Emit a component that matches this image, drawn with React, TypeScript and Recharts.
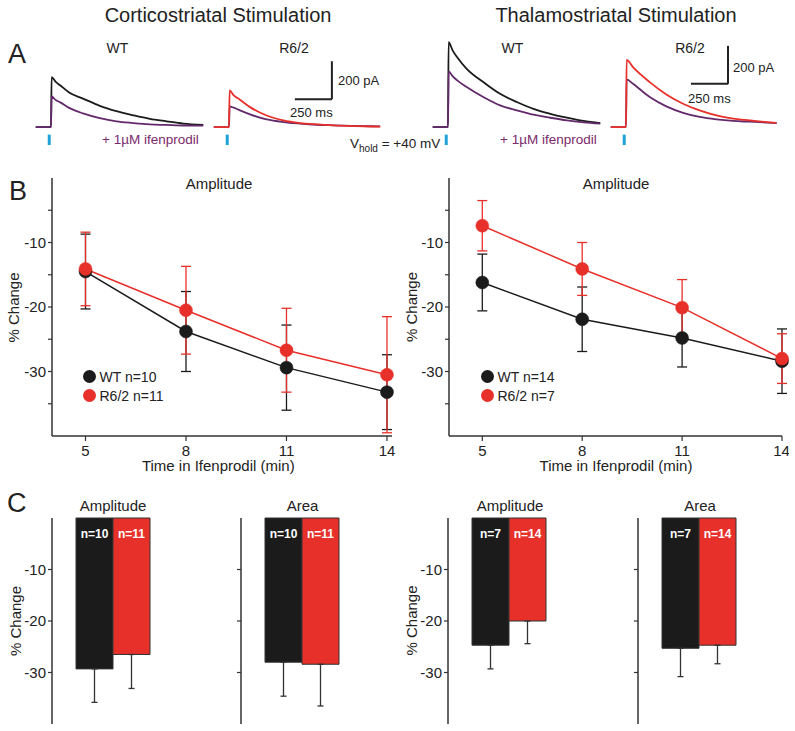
import React from 'react';
import {
  LineChart,
  Line,
  BarChart,
  Bar,
  XAxis,
  YAxis,
  ErrorBar,
  ReferenceLine,
  LabelList,
  Legend,
} from 'recharts';

const FONT = '"Liberation Sans", Arial, Helvetica, sans-serif';
const INK = '#222';
const BLACK = '#1b1b1b';
const RED = '#e8302a';
const PURPLE = '#63296b';
const PURPLE_TEXT = '#7b2a6b';
const BLUE = '#1ea2d9';

// ---- Panel A: example currents (time in ms, current in pA)
const CTX_WT_T = [-105, -2, 2, 30, 60, 120, 214, 327, 439, 552, 664, 777, 890, 1025];
const CTX_WT_CTRL = [0, 0, 263, 238, 220, 182, 150, 112, 84, 62, 43, 30, 18, 11];
const CTX_WT_IFEN = [0, 0, 161, 142, 130, 101, 72, 47, 30, 21, 14, 11, 8, 7];

const CTX_R62_T = [-105, -2, 2, 30, 72, 140, 252, 365, 477, 590, 703, 850, 1018];
const CTX_R62_CTRL = [0, 0, 193, 167, 144, 105, 61, 35, 21, 14, 9, 5, 2];
const CTX_R62_IFEN = [0, 0, 109, 102, 88, 67, 40, 26, 18, 12, 9, 6, 3];

const THL_WT_T = [-105, -2, 2, 30, 60, 124, 236, 349, 462, 574, 687, 800, 912, 1025];
const THL_WT_CTRL = [0, 0, 447, 403, 368, 307, 237, 175, 132, 96, 70, 49, 32, 21];
const THL_WT_IFEN = [0, 0, 293, 267, 246, 211, 158, 114, 88, 65, 49, 35, 25, 18];

const THL_R62_T = [-105, -2, 2, 45, 158, 270, 383, 495, 608, 721, 833, 1014];
const THL_R62_CTRL = [0, 0, 354, 316, 237, 172, 123, 88, 61, 44, 35, 21];
const THL_R62_IFEN = [0, 0, 251, 228, 158, 109, 75, 53, 40, 32, 28, 21];

// ---- Panel B: % change in amplitude over time
const MINUTES = [5, 8, 11, 14];
const CTX_WT_AMP = [-14.5, -23.8, -29.4, -33.2];
const CTX_WT_SEM = [5.8, 6.2, 6.6, 5.8];
const CTX_R62_AMP = [-14.1, -20.5, -26.7, -30.5];
const CTX_R62_SEM = [5.7, 6.8, 6.5, 9.0];
const THL_WT_AMP = [-16.2, -21.9, -24.8, -28.4];
const THL_WT_SEM = [4.4, 5.0, 4.5, 5.0];
const THL_R62_AMP = [-7.4, -14.1, -20.1, -28.0];
const THL_R62_SEM = [3.9, 4.1, 4.35, 3.85];

// ---- Panel C: summary bars [WT, R6/2]
const CTX_AMP_BARS = [-29.3, -26.5];
const CTX_AMP_SEM = [6.5, 6.6];
const CTX_AREA_BARS = [-28.0, -28.4];
const CTX_AREA_SEM = [6.6, 8.1];
const THL_AMP_BARS = [-24.7, -20.0];
const THL_AMP_SEM = [4.6, 4.4];
const THL_AREA_BARS = [-25.3, -24.7];
const THL_AREA_SEM = [5.5, 3.6];
const CTX_N = ['n=10', 'n=11'];
const THL_N = ['n=7', 'n=14'];

const STIM_T = -14;

type TraceProps = {
  left: number;
  times: number[];
  ctrl: number[];
  ifen: number[];
  ctrlColor: string;
  ifenOnTop: boolean;
  scaleAt?: { t: number; pA: number };
};

function TraceChart({ left, times, ctrl, ifen, ctrlColor, ifenOnTop, scaleAt }: TraceProps) {
  const data = times.map((t, i) => ({ t, ctrl: ctrl[i], ifen: ifen[i] }));
  const ctrlLine = (
    <Line key="c" dataKey="ctrl" type="monotone" stroke={ctrlColor} strokeWidth={1.8} dot={false} isAnimationActive={false} />
  );
  const ifenLine = (
    <Line key="i" dataKey="ifen" type="monotone" stroke={PURPLE} strokeWidth={1.8} dot={false} isAnimationActive={false} />
  );
  return (
    <div style={{ position: 'absolute', left, top: 36 }}>
      <LineChart width={169} height={110} data={data} margin={{ top: 0, right: 0, bottom: 0, left: 0 }}>
        <XAxis type="number" dataKey="t" domain={[-110, 1030]} hide />
        <YAxis type="number" domain={[-100, 480]} hide />
        {ifenOnTop ? [ctrlLine, ifenLine] : [ifenLine, ctrlLine]}
        <ReferenceLine
          segment={[{ x: STIM_T, y: -40 }, { x: STIM_T, y: -95 }]}
          stroke={BLUE}
          strokeWidth={3}
        />
        {scaleAt && (
          <ReferenceLine
            segment={[{ x: scaleAt.t, y: scaleAt.pA }, { x: scaleAt.t, y: scaleAt.pA + 200 }]}
            stroke={INK}
            strokeWidth={2}
          />
        )}
        {scaleAt && (
          <ReferenceLine
            segment={[{ x: scaleAt.t - 250, y: scaleAt.pA }, { x: scaleAt.t + 1, y: scaleAt.pA }]}
            stroke={INK}
            strokeWidth={2}
          />
        )}
      </LineChart>
    </div>
  );
}

const legendContent = (labels: string[]) => () => (
  <div style={{ fontSize: 14, color: INK, fontFamily: FONT }}>
    {[BLACK, RED].map((c, i) => (
      <div key={i} style={{ display: 'flex', alignItems: 'center', height: 19, whiteSpace: 'nowrap' }}>
        <span
          style={{ width: 13, height: 13, borderRadius: '50%', background: c, display: 'inline-block', marginRight: 4 }}
        />
        <span>{labels[i]}</span>
      </div>
    ))}
  </div>
);

type TimeCourseProps = {
  left: number;
  width: number;
  xMax: number;
  rightMargin: number;
  wt: number[];
  wtSem: number[];
  r62: number[];
  r62Sem: number[];
  labels: string[];
  legendLeft: number;
};

function TimeCourse({ left, width, xMax, rightMargin, wt, wtSem, r62, r62Sem, labels, legendLeft }: TimeCourseProps) {
  const data = MINUTES.map((t, i) => ({ t, wt: wt[i], wtErr: wtSem[i], r62: r62[i], r62Err: r62Sem[i] }));
  return (
    <div style={{ position: 'absolute', left, top: 160 }}>
      <LineChart width={width} height={320} data={data} margin={{ top: 18, right: rightMargin, bottom: 14, left: 0 }}>
        <XAxis
          type="number"
          dataKey="t"
          domain={[4, xMax]}
          ticks={MINUTES}
          height={30}
          tickSize={5}
          tickMargin={4}
          axisLine={{ stroke: '#333', strokeWidth: 1.5 }}
          tickLine={{ stroke: '#333', strokeWidth: 1.2 }}
          tick={{ fontSize: 15, fill: INK }}
        />
        <YAxis
          type="number"
          domain={[-40, 0]}
          ticks={[-35, -30, -25, -20, -15, -10, -5]}
          tickFormatter={(v: number) => (v % 10 === 0 ? String(v) : '')}
          width={52}
          tickSize={4}
          tickMargin={2}
          axisLine={{ stroke: '#333', strokeWidth: 1.5 }}
          tickLine={{ stroke: '#333', strokeWidth: 1.2 }}
          tick={{ fontSize: 15, fill: INK }}
        />
        <Line
          dataKey="wt"
          stroke={BLACK}
          strokeWidth={1.5}
          dot={{ r: 6.5, fill: BLACK, stroke: BLACK, strokeWidth: 0.5 }}
          isAnimationActive={false}
        >
          <ErrorBar dataKey="wtErr" direction="y" width={5} stroke={BLACK} strokeWidth={1.3} />
        </Line>
        <Line
          dataKey="r62"
          stroke={RED}
          strokeWidth={1.5}
          dot={{ r: 6.5, fill: RED, stroke: RED, strokeWidth: 0.5 }}
          isAnimationActive={false}
        >
          <ErrorBar dataKey="r62Err" direction="y" width={5} stroke={RED} strokeWidth={1.3} />
        </Line>
        <Legend
          layout="vertical"
          align="center"
          verticalAlign="middle"
          content={legendContent(labels)}
          wrapperStyle={{ left: legendLeft, top: 207, width: 'auto', height: 'auto' }}
        />
      </LineChart>
    </div>
  );
}

const NLabel = (props: any) => {
  const { x, y, width, height, value } = props;
  const top = Math.min(Number(y), Number(y) + Number(height));
  return (
    <text
      x={Number(x) + Number(width) / 2}
      y={top + 19.5}
      textAnchor="middle"
      fill="#fff"
      fontSize={12}
      fontWeight="bold"
      fontFamily={FONT}
    >
      {value}
    </text>
  );
};

type BarPanelProps = {
  left: number;
  bars: number[];
  sem: number[];
  ns: string[];
  showLabels: boolean;
};

function BarPanel({ left, bars, sem, ns, showLabels }: BarPanelProps) {
  const data = [
    { name: 'g', wt: bars[0], r62: bars[1], wtErr: [sem[0], 0], r62Err: [sem[1], 0], wtN: ns[0], r62N: ns[1] },
  ];
  return (
    <div style={{ position: 'absolute', left, top: 480 }}>
      <BarChart
        width={200}
        height={251}
        data={data}
        margin={{ top: 38, right: 26, bottom: 7, left: 0 }}
        barGap={0}
        barSize={37}
      >
        <XAxis
          dataKey="name"
          orientation="top"
          height={0}
          tick={false}
          tickLine={false}
          axisLine={{ stroke: '#333', strokeWidth: 1.5 }}
        />
        <YAxis
          type="number"
          domain={[-40, 0]}
          ticks={[-30, -20, -10]}
          tickFormatter={(v: number) => (showLabels ? String(v) : '')}
          width={52}
          tickSize={4}
          tickMargin={2}
          axisLine={{ stroke: '#333', strokeWidth: 1.5 }}
          tickLine={{ stroke: '#333', strokeWidth: 1.2 }}
          tick={{ fontSize: 15, fill: INK }}
        />
        <Bar dataKey="wt" fill={BLACK} stroke="#333" strokeWidth={1} isAnimationActive={false}>
          <ErrorBar dataKey="wtErr" direction="y" width={3} stroke="#333" strokeWidth={1.3} />
          <LabelList dataKey="wtN" content={NLabel} />
        </Bar>
        <Bar dataKey="r62" fill={RED} stroke="#333" strokeWidth={1} isAnimationActive={false}>
          <ErrorBar dataKey="r62Err" direction="y" width={3} stroke="#333" strokeWidth={1.3} />
          <LabelList dataKey="r62N" content={NLabel} />
        </Bar>
      </BarChart>
    </div>
  );
}

function VLabel({ x, y, text }: { x: number; y: number; text: string }) {
  return (
    <text transform={`translate(${x},${y}) rotate(-90)`} textAnchor="middle" fontSize={15} fill={INK}>
      {text}
    </text>
  );
}

export default function App() {
  return (
    <div
      style={{
        position: 'absolute',
        left: 0,
        top: 0,
        width: 795,
        height: 731,
        background: '#fff',
        fontFamily: FONT,
        overflow: 'hidden',
      }}
    >
      <TraceChart left={35.4} times={CTX_WT_T} ctrl={CTX_WT_CTRL} ifen={CTX_WT_IFEN} ctrlColor={BLACK} ifenOnTop />
      <TraceChart
        left={213}
        times={CTX_R62_T}
        ctrl={CTX_R62_CTRL}
        ifen={CTX_R62_IFEN}
        ctrlColor={RED}
        ifenOnTop={false}
        scaleAt={{ t: 692, pA: 147 }}
      />
      <TraceChart left={432} times={THL_WT_T} ctrl={THL_WT_CTRL} ifen={THL_WT_IFEN} ctrlColor={BLACK} ifenOnTop />
      <TraceChart
        left={610.4}
        times={THL_R62_T}
        ctrl={THL_R62_CTRL}
        ifen={THL_R62_IFEN}
        ctrlColor={RED}
        ifenOnTop={false}
        scaleAt={{ t: 686, pA: 228 }}
      />

      <TimeCourse
        left={0}
        width={400}
        xMax={14.15}
        rightMargin={8}
        wt={CTX_WT_AMP}
        wtSem={CTX_WT_SEM}
        r62={CTX_R62_AMP}
        r62Sem={CTX_R62_SEM}
        labels={['WT n=10', 'R6/2 n=11']}
        legendLeft={82.5}
      />
      <TimeCourse
        left={397}
        width={392}
        xMax={14}
        rightMargin={7}
        wt={THL_WT_AMP}
        wtSem={THL_WT_SEM}
        r62={THL_R62_AMP}
        r62Sem={THL_R62_SEM}
        labels={['WT n=14', 'R6/2 n=7']}
        legendLeft={83.5}
      />

      <BarPanel left={0} bars={CTX_AMP_BARS} sem={CTX_AMP_SEM} ns={CTX_N} showLabels />
      <BarPanel left={189} bars={CTX_AREA_BARS} sem={CTX_AREA_SEM} ns={CTX_N} showLabels={false} />
      <BarPanel left={396} bars={THL_AMP_BARS} sem={THL_AMP_SEM} ns={THL_N} showLabels />
      <BarPanel left={586} bars={THL_AREA_BARS} sem={THL_AREA_SEM} ns={THL_N} showLabels={false} />

      <svg
        width={795}
        height={731}
        style={{ position: 'absolute', left: 0, top: 0, pointerEvents: 'none' }}
        fontFamily={FONT}
      >
        {/* panel A */}
        <text x={218} y={22} textAnchor="middle" fontSize={20} fill={INK}>Corticostriatal Stimulation</text>
        <text x={616} y={22} textAnchor="middle" fontSize={20} fill={INK}>Thalamostriatal Stimulation</text>
        <text x={8} y={63} fontSize={27} fill={INK}>A</text>
        <text x={117.5} y={53} textAnchor="middle" fontSize={14} fill={INK}>WT</text>
        <text x={294} y={53} textAnchor="middle" fontSize={14} fill={INK}>R6/2</text>
        <text x={512.5} y={53} textAnchor="middle" fontSize={14} fill={INK}>WT</text>
        <text x={690} y={53} textAnchor="middle" fontSize={14} fill={INK}>R6/2</text>
        <text x={338} y={85} fontSize={13} fill={INK}>200 pA</text>
        <text x={290} y={116.5} fontSize={13} fill={INK}>250 ms</text>
        <text x={733} y={71.5} fontSize={13} fill={INK}>200 pA</text>
        <text x={688} y={103} fontSize={13} fill={INK}>250 ms</text>
        <text x={102} y={144} fontSize={13.5} fill={PURPLE_TEXT}>+ 1µM ifenprodil</text>
        <text x={500} y={144} fontSize={13.5} fill={PURPLE_TEXT}>+ 1µM ifenprodil</text>
        <text x={350} y={148} fontSize={13.5} fill={INK}>
          V<tspan fontSize={10} dy={4}>hold</tspan>
          <tspan dy={-4}> = +40 mV</tspan>
        </text>

        {/* panel B */}
        <text x={9} y={200} fontSize={27} fill={INK}>B</text>
        <text x={219} y={189} textAnchor="middle" fontSize={15} fill={INK}>Amplitude</text>
        <text x={616} y={189} textAnchor="middle" fontSize={15} fill={INK}>Amplitude</text>
        <VLabel x={19} y={307.5} text="% Change" />
        <VLabel x={417} y={307} text="% Change" />
        <text x={218.3} y={471} textAnchor="middle" fontSize={15} fill={INK}>Time in Ifenprodil (min)</text>
        <text x={616} y={471} textAnchor="middle" fontSize={15} fill={INK}>Time in Ifenprodil (min)</text>

        {/* panel C */}
        <text x={7} y={512} fontSize={27} fill={INK}>C</text>
        <text x={113} y={511} textAnchor="middle" fontSize={15} fill={INK}>Amplitude</text>
        <text x={302.5} y={511} textAnchor="middle" fontSize={15} fill={INK}>Area</text>
        <text x={510} y={511} textAnchor="middle" fontSize={15} fill={INK}>Amplitude</text>
        <text x={700} y={511} textAnchor="middle" fontSize={15} fill={INK}>Area</text>
        <VLabel x={20.5} y={621} text="% Change" />
        <VLabel x={417} y={620.5} text="% Change" />
      </svg>
    </div>
  );
}
